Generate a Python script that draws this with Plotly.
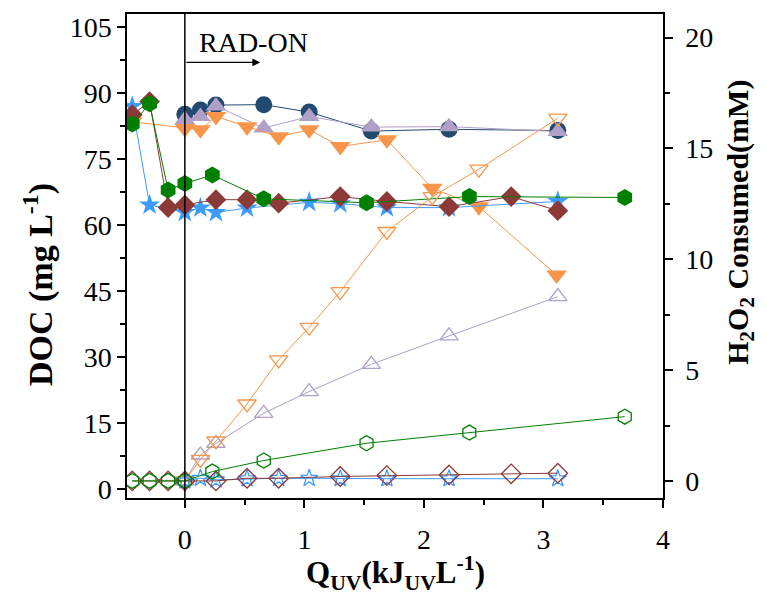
import plotly.graph_objects as go

# ---- DOC (left axis, filled markers) and H2O2 consumed (right axis, open markers) ----
navy_x = [0, 0.13, 0.26, 0.66, 1.04, 1.56, 2.21, 3.12]
navy_doc = [85.2, 86.2, 87.3, 87.4, 85.7, 81.4, 81.8, 81.5]

lav_x = [0, 0.13, 0.26, 0.66, 1.04, 1.56, 2.21, 3.12]
lav_doc = [84.0, 84.7, 87.1, 82.1, 84.7, 82.3, 82.4, 81.3]
lav_h2o2 = [0, 1.17, 1.7, 3.05, 4.03, 5.26, 6.54, 8.31]

org_x = [-0.44, 0, 0.13, 0.26, 0.52, 0.785, 1.04, 1.30, 1.69, 2.07, 2.46, 3.11]
org_doc = [83.5, 82.0, 81.7, 84.7, 82.4, 80.1, 81.7, 77.9, 79.4, 68.4, 64.2, 48.7]
org_h2o2_x = [0, 0.13, 0.26, 0.52, 0.785, 1.04, 1.30, 1.69, 2.07, 2.46, 3.12]
org_h2o2 = [0, 0.97, 1.8, 3.47, 5.46, 6.93, 8.54, 11.25, 12.82, 14.06, 16.36]

grn_x = [-0.44, -0.295, -0.14, 0, 0.23, 0.66, 1.52, 2.38, 3.68]
grn_doc = [83.0, 87.6, 68.0, 69.5, 71.4, 66.0, 65.1, 66.5, 66.3]
grn_h2o2 = [0, 0, 0, 0, 0.42, 0.92, 1.70, 2.18, 2.90]

brn_x = [-0.44, -0.295, -0.14, 0, 0.26, 0.52, 0.785, 1.30, 1.69, 2.21, 2.73, 3.12]
brn_doc = [85.1, 88.1, 64.0, 64.6, 65.8, 65.8, 65.0, 66.5, 65.4, 64.2, 66.5, 63.3]
brn_h2o2 = [0, 0, 0, 0, 0.0, 0.12, 0.12, 0.2, 0.24, 0.27, 0.32, 0.35]

blu_x = [-0.44, -0.295, 0, 0.13, 0.26, 0.52, 1.04, 1.30, 1.69, 2.21, 3.12]
blu_doc = [87.0, 64.6, 62.9, 63.9, 62.9, 63.9, 65.2, 64.9, 64.0, 64.0, 65.4]
blu_h2o2_x = [0, 0.13, 0.26, 0.52, 0.785, 1.04, 1.30, 1.69, 2.21, 3.12]
blu_h2o2 = [0, 0.12, 0.05, 0.1, 0.12, 0.12, 0.1, 0.1, 0.1, 0.1]

NAVY = "#22496f"
LAV = "#b09fc6"
ORG = "#f7964a"
GRN = "#008000"
BRN = "#8c3a38"
BLU = "#3d9cff"

FONT = "Liberation Serif"

fig = go.Figure()


def doc_trace(x, y, color, symbol, size):
    fig.add_trace(go.Scatter(
        x=x, y=y, mode="lines+markers", yaxis="y",
        line=dict(color=color, width=1),
        marker=dict(symbol=symbol, size=size, color=color, line=dict(width=0)),
        showlegend=False, hoverinfo="skip"))


def h2o2_trace(x, y, color, symbol, size):
    fig.add_trace(go.Scatter(
        x=x, y=y, mode="lines+markers", yaxis="y2",
        line=dict(color=color, width=1),
        marker=dict(symbol=symbol + "-open", size=size, color=color,
                    line=dict(width=1.3, color=color)),
        showlegend=False, hoverinfo="skip"))


doc_trace(navy_x, navy_doc, NAVY, "circle", 17)
doc_trace(lav_x, lav_doc, LAV, "triangle-up", 18)
doc_trace(org_x, org_doc, ORG, "triangle-down", 18)
doc_trace(blu_x, blu_doc, BLU, "star", 16)
doc_trace(brn_x, brn_doc, BRN, "diamond", 16)
doc_trace(grn_x, grn_doc, GRN, "hexagon", 17)

h2o2_trace(lav_x, lav_h2o2, LAV, "triangle-up", 16)
h2o2_trace(org_h2o2_x, org_h2o2, ORG, "triangle-down", 16)
h2o2_trace(blu_h2o2_x, blu_h2o2, BLU, "star", 13)
h2o2_trace(brn_x, brn_h2o2, BRN, "diamond", 15)
h2o2_trace(grn_x, grn_h2o2, GRN, "hexagon", 15)

tickfont = dict(family=FONT, size=28, color="black")
axis_common = dict(showline=True, linecolor="black", linewidth=1.5,
                   ticks="outside", ticklen=8, tickwidth=1.5, tickcolor="black",
                   showgrid=False, zeroline=False, tickfont=tickfont)

fig.update_layout(
    width=767, height=595,
    margin=dict(l=127, r=104, t=14, b=97),
    paper_bgcolor="white", plot_bgcolor="white",
    xaxis=dict(range=[-0.484, 4.0], tickmode="array", tickvals=[0, 1, 2, 3, 4],
               mirror=True, ticklabelstandoff=8,
               minor=dict(tickvals=[0.5, 1.5, 2.5, 3.5], ticks="outside",
                          ticklen=5, tickwidth=1.5, tickcolor="black"),
               **axis_common),
    yaxis=dict(range=[-2.0, 108.0], tickmode="array",
               tickvals=[0, 15, 30, 45, 60, 75, 90, 105],
               minor=dict(tickvals=[7.5, 22.5, 37.5, 52.5, 67.5, 82.5, 97.5],
                          ticks="outside", ticklen=5, tickwidth=1.5,
                          tickcolor="black"),
               **axis_common),
    yaxis2=dict(range=[-0.77, 21.06], overlaying="y", side="right",
                tickmode="array", tickvals=[0, 5, 10, 15, 20],
                ticklabelstandoff=7,
                minor=dict(tickvals=[2.5, 7.5, 12.5, 17.5], ticks="outside",
                           ticklen=5, tickwidth=1.5, tickcolor="black"),
                **axis_common),
)

# RAD-ON marker: vertical line at Q = 0 and an arrow to the right
fig.add_shape(type="line", xref="x", yref="paper", x0=0, x1=0, y0=0, y1=1,
              line=dict(color="black", width=1.5))
fig.add_annotation(x=0.63, y=97, ax=0, ay=97, xref="x", yref="y",
                   axref="x", ayref="y", text="", showarrow=True,
                   arrowhead=2, arrowsize=1.2, arrowwidth=1.3, arrowcolor="black")
fig.add_annotation(x=0.1, y=101.5, xref="x", yref="y", text="RAD-ON",
                   showarrow=False, xanchor="left", yanchor="middle",
                   font=dict(family=FONT, size=28, color="black"))

fig.add_annotation(x=-0.166, y=0.44, xref="paper", yref="paper",
                   xanchor="center", yanchor="middle",
                   text="<b>DOC (mg L<sup>-1</sup>)</b>", textangle=-90,
                   showarrow=False,
                   font=dict(family=FONT, size=34, color="black"))
fig.add_annotation(x=1.143, y=0.57, xref="paper", yref="paper",
                   xanchor="center", yanchor="middle",
                   text="<b>H<sub>2</sub>O<sub>2</sub> Consumed(mM)</b>",
                   textangle=-90, showarrow=False,
                   font=dict(family=FONT, size=30, color="black"))
fig.add_annotation(x=0.5, y=-0.155, xref="paper", yref="paper",
                   xanchor="center", yanchor="middle",
                   text="<b>Q<sub>UV</sub>(kJ<sub>UV</sub>L<sup>-1</sup>)</b>",
                   showarrow=False,
                   font=dict(family=FONT, size=31, color="black"))

fig.write_html("out.html")
